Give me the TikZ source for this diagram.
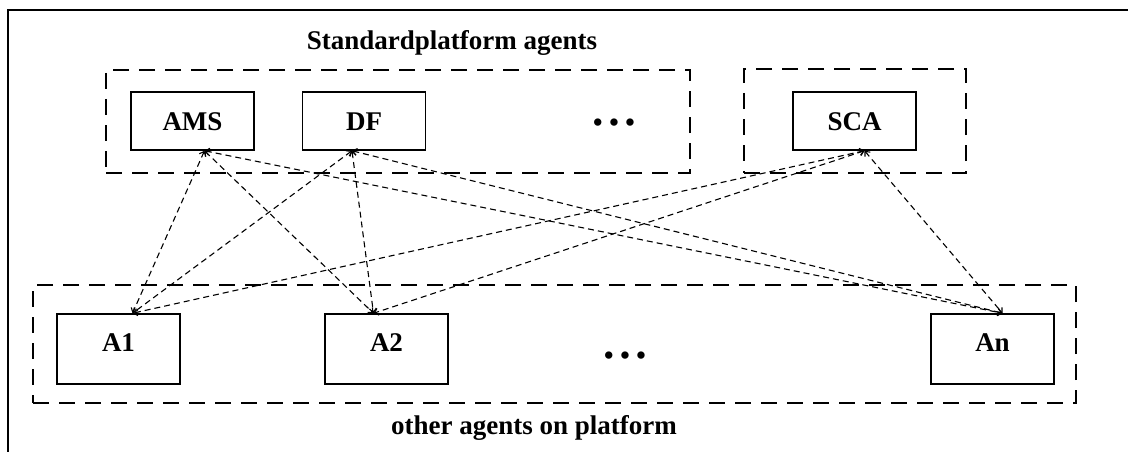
\documentclass[tikz,border=0pt]{standalone}
\usepackage{fontspec}
\setmainfont{Liberation Serif}
\usetikzlibrary{arrows.meta}

\begin{document}
\begin{tikzpicture}[x=1pt,y=-1pt]
  \tikzstyle{every node}=[font=\fontsize{27}{30}\selectfont\bfseries]
  \tikzstyle{agent}=[draw,line width=1.5pt,minimum width=123pt,text height=18pt,text depth=0pt]
  \tikzstyle{group}=[draw,line width=2.6pt,dash pattern=on 16pt off 10pt]
  \tikzstyle{link}=[<->,>={Straight Barb[length=4pt,width=7pt]},line width=1.1pt,dash pattern=on 6pt off 4pt]

  \useasboundingbox (0,0) rectangle (1128,452);
  \draw[line width=2pt] (1132,10) -- (8,10) -- (8,456);

  % platform groups
  \node[group,minimum width=584pt,minimum height=103pt] (std)   at (398,121.5)  {};
  \node[group,minimum width=222pt,minimum height=104pt] (extra) at (855,121)    {};
  \node[group,minimum width=1043pt,minimum height=118pt] (other) at (554.5,344) {};

  \node[anchor=base] (title)    at (452,50)  {Standardplatform agents};
  \node[anchor=base] (platform) at (534,434) {other agents on platform};

  % standard agents
  \node[agent,minimum height=58pt] (ams) at (192.5,121) {AMS};
  \node[agent,minimum height=58pt] (df)  at (364,121)   {DF};
  \node[agent,minimum height=58pt] (sca) at (854.5,121) {SCA};
  \node (dotsU) at (614,125) {• • •};

  % other agents
  \node[agent,minimum height=70pt,text depth=14pt] (a1) at (118.5,349) {A1};
  \node[agent,minimum height=70pt,text depth=14pt] (a2) at (386.5,349) {A2};
  \node[agent,minimum height=70pt,text depth=14pt] (an) at (992.5,349) {An};
  \node (dotsL) at (625,358) {• • •};

  \coordinate (amsB) at ([xshift=12pt]ams.south);
  \coordinate (dfB)  at ([xshift=-12pt]df.south);
  \coordinate (scaB) at ([xshift=10pt]sca.south);
  \coordinate (a1T)  at ([xshift=14pt]a1.north);
  \coordinate (a2T)  at ([xshift=-13pt]a2.north);
  \coordinate (anT)  at ([xshift=10pt]an.north);

  \draw[link] (amsB) -- (a1T);
  \draw[link] (amsB) -- (a2T);
  \draw[link] (amsB) -- (anT);

  \draw[link] (dfB) -- (a1T);
  \draw[link] (dfB) -- (a2T);
  \draw[link] (dfB) -- (anT);

  \draw[link] (scaB) -- (a1T);
  \draw[link] (scaB) -- (a2T);
  \draw[link] (scaB) -- (anT);
\end{tikzpicture}
\end{document}
